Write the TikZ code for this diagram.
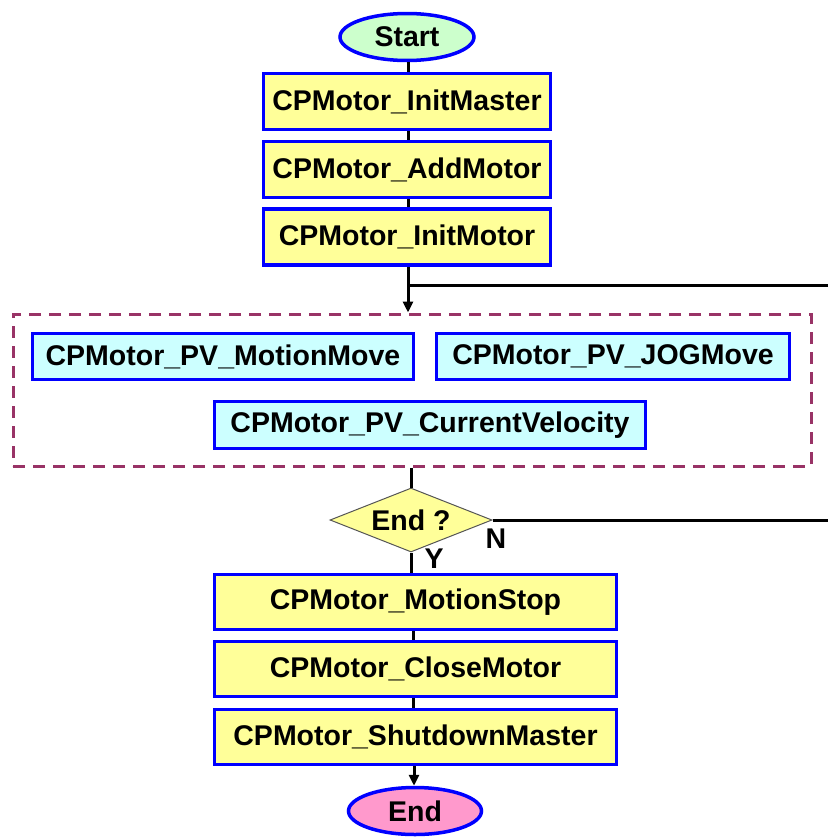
\documentclass[tikz,border=0pt]{standalone}
\usepackage{fontspec}
\setmainfont{Liberation Sans}
\usetikzlibrary{shapes.geometric,arrows.meta}
\definecolor{boxyellow}{HTML}{FFFF99}
\definecolor{boxblue}{HTML}{0000FF}
\definecolor{boxcyan}{HTML}{CCFFFF}
\definecolor{startgreen}{HTML}{CCFFCC}
\definecolor{endpink}{HTML}{FF99CC}
\definecolor{dashpurple}{HTML}{993366}
\definecolor{decgray}{HTML}{555555}
\tikzset{
  lbl/.style={font=\fontsize{28.5}{31}\selectfont\bfseries},
  funcbox/.style={lbl, rectangle, draw=boxblue, line width=3.5pt, fill=boxyellow, inner sep=0pt},
  pvbox/.style={lbl, rectangle, draw=boxblue, line width=3.5pt, fill=boxcyan, inner sep=0pt},
  term/.style={lbl, ellipse, draw=boxblue, line width=3.5pt, inner sep=0pt},
  decbox/.style={diamond, draw=decgray, line width=1pt, fill=boxyellow, inner sep=0pt},
  conn/.style={line width=3pt, black},
  arr/.style={conn, -{Triangle[length=11pt,width=10pt]}},
  grp/.style={draw=dashpurple, line width=3pt, dash pattern=on 12pt off 8pt},
}
\begin{document}
\begin{tikzpicture}[x=1pt,y=-1pt]
\path[use as bounding box] (0,0) rectangle (828,838);
% terminals
\node[term, fill=startgreen, minimum width=134, minimum height=47] (start) at (407,37) {Start};
\node[term, fill=endpink, minimum width=133, minimum height=47] (end) at (415,811) {End};
% init boxes
\node[funcbox, minimum width=287, minimum height=56] (initmaster) at (407,101.5) {CPMotor\_InitMaster};
\node[funcbox, minimum width=287, minimum height=56] (addmotor) at (407,169.5) {CPMotor\_AddMotor};
\node[funcbox, minimum width=287, minimum height=56] (initmotor) at (407,237) {CPMotor\_InitMotor};
% group
\node[grp, rectangle, minimum width=798, minimum height=152, inner sep=0pt] (group) at (412,390) {};
\node[pvbox, minimum width=381, minimum height=46] (motionmove) at (223,356.5) {CPMotor\_PV\_MotionMove};
\node[pvbox, minimum width=353, minimum height=46] (jogmove) at (613,356.5) {CPMotor\_PV\_JOGMove};
\node[pvbox, minimum width=431, minimum height=47] (curvel) at (430,425) {CPMotor\_PV\_CurrentVelocity};
% decision
\node[decbox, minimum width=162, minimum height=64] (dec) at (411,520) {};
\node[lbl] (dectext) at (411,520) {End ?};
\node[lbl] (nlabel) at (496,539) {N};
\node[lbl] (ylabel) at (434,559) {Y};
% final boxes
\node[funcbox, minimum width=402, minimum height=55] (motionstop) at (415.5,602) {CPMotor\_MotionStop};
\node[funcbox, minimum width=402, minimum height=55] (closemotor) at (415.5,669) {CPMotor\_CloseMotor};
\node[funcbox, minimum width=402, minimum height=55] (shutdown) at (415.5,737) {CPMotor\_ShutdownMaster};
% connectors
\coordinate (loopin) at (828,285);
\coordinate (junction) at (408,285);
\coordinate (loopout) at (828,520);
\draw[conn] (start.south -| 408,0) -- (initmaster.north -| 408,0);
\draw[conn] (initmaster.south -| 408,0) -- (addmotor.north -| 408,0);
\draw[conn] (addmotor.south -| 408,0) -- (initmotor.north -| 408,0);
\draw[arr] (initmotor.south -| 408,0) -- (group.north -| 408,0);
\draw[conn] (loopin) -- (junction);
\draw[conn] (group.south -| dec.north) -- (dec.north);
\draw[conn] (dec.east) -- (loopout);
\draw[conn] (dec.south) -- (motionstop.north -| dec.south);
\draw[conn] (motionstop.south -| 413,0) -- (closemotor.north -| 413,0);
\draw[conn] (closemotor.south -| 413,0) -- (shutdown.north -| 413,0);
\draw[arr] (shutdown.south -| 414,0) -- (end.north -| 414,0);
\end{tikzpicture}
\end{document}
